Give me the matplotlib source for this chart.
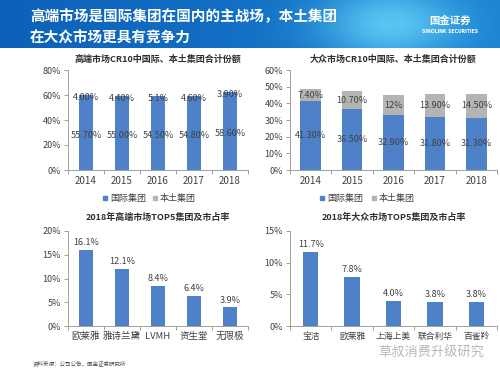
import numpy as np
import matplotlib
matplotlib.use("Agg")
from matplotlib import pyplot as plt

plt.rcParams['font.family'] = ['Noto Sans CJK SC', 'DejaVu Sans']

years = ['2014', '2015', '2016', '2017', '2018']
hi_intl = [55.7, 55.0, 54.5, 54.8, 58.6]
hi_local = [4.0, 4.4, 5.1, 4.6, 3.9]
hi_local_lbl = ['4.00%', '4.40%', '5.1%', '4.60%', '3.90%']
hi_intl_lbl = ['55.70%', '55.00%', '54.50%', '54.80%', '58.60%']

mass_intl = [41.3, 36.5, 32.9, 31.8, 31.3]
mass_local = [7.4, 10.7, 12.0, 13.9, 14.5]
mass_local_lbl = ['7.40%', '10.70%', '12%', '13.90%', '14.50%']
mass_intl_lbl = ['41.30%', '36.50%', '32.90%', '31.80%', '31.30%']

hi_top5 = ['欧莱雅', '雅诗兰黛', 'LVMH', '资生堂', '无限极']
hi_top5_share = [16.1, 12.1, 8.4, 6.4, 3.9]
mass_top5 = ['宝洁', '欧莱雅', '上海上美', '联合利华', '百雀羚']
mass_top5_share = [11.7, 7.8, 4.0, 3.8, 3.8]

BLUE = '#4f81c9'
GREY = '#b4b4b4'
TXT = '#404040'

fig = plt.figure(figsize=(5, 3.75), dpi=100)

# header band
hdr = fig.add_axes([0, 1 - 48 / 375, 1, 48 / 375])
xx = np.linspace(0, 1, 300)
yy = np.linspace(0, 1, 40)
X, Y = np.meshgrid(xx, yy)
glow = np.exp(-((X - 0.78) ** 2) / 0.02 - ((Y - 0.5) ** 2) / 0.6)
r = 0.05 + 0.05 * X + 0.25 * glow
g = 0.38 + 0.12 * X + 0.3 * glow
b = 0.72 + 0.1 * X + 0.15 * glow
img = np.clip(np.dstack([r, g, b]), 0, 1)
hdr.imshow(img, aspect='auto', extent=[0, 1, 0, 1], origin='lower')
hdr.set_xlim(0, 1)
hdr.set_ylim(0, 1)
hdr.axis('off')
hdr.text(0.06, 0.66, '高端市场是国际集团在国内的主战场，本土集团', color='white',
         fontsize=10.5, fontweight='bold', va='center', ha='left')
hdr.text(0.06, 0.22, '在大众市场更具有竞争力', color='white',
         fontsize=10.5, fontweight='bold', va='center', ha='left')
hdr.text(0.9, 0.56, '国金证券', color='white', fontsize=7.5, fontweight='bold',
         va='center', ha='center')
hdr.text(0.9, 0.34, 'SINOLINK SECURITIES', color='white', fontsize=3.3,
         fontweight='bold', va='center', ha='center', family='DejaVu Sans')


def style_axes(ax, n, xsize=7):
    for s in ['top', 'right']:
        ax.spines[s].set_visible(False)
    for s in ['left', 'bottom']:
        ax.spines[s].set_color('#a0a0a0')
        ax.spines[s].set_linewidth(0.7)
    ax.set_xlim(-0.5, n - 0.5)
    ax.set_xticks(range(n))
    ax.set_xticks(np.arange(-0.5, n, 1), minor=True)
    ax.tick_params(axis='x', which='major', length=0, labelsize=xsize, colors=TXT, pad=4)
    ax.tick_params(axis='x', which='minor', length=3, color='#a0a0a0', width=0.7)
    ax.tick_params(axis='y', length=3, color='#a0a0a0', width=0.7, labelsize=6.5,
                   colors=TXT, pad=2)


def pct_ticks(ax, top, step):
    t = np.arange(0, top + 0.1, step)
    ax.set_ylim(0, top)
    ax.set_yticks(t)
    ax.set_yticklabels(['%d%%' % v for v in t])


# top-left: high-end market CR10
ax1 = fig.add_axes([68 / 500, 1 - 170 / 375, 180 / 500, 100 / 375])
x = np.arange(len(years))
ax1.bar(x, hi_intl, 0.38, color=BLUE)
ax1.bar(x, hi_local, 0.38, bottom=hi_intl, color=BLUE)
for i in x:
    ax1.text(i, hi_intl[i] / 2, hi_intl_lbl[i], ha='center', va='center', fontsize=6.5, color=TXT)
    ax1.text(i, hi_intl[i] + hi_local[i] / 2, hi_local_lbl[i], ha='center', va='center',
             fontsize=6.5, color=TXT)
ax1.set_xticklabels(years)
pct_ticks(ax1, 80, 20)
style_axes(ax1, len(years))
ax1.set_title('高端市场CR10中国际、本土集团合计份额', fontsize=6.5, fontweight='bold',
              color='#303030', pad=6)

# top-right: mass market CR10
ax2 = fig.add_axes([290 / 500, 1 - 170 / 375, 207 / 500, 100 / 375])
ax2.bar(x, mass_intl, 0.5, color=BLUE)
ax2.bar(x, mass_local, 0.5, bottom=mass_intl, color=GREY)
for i in x:
    ax2.text(i, mass_intl[i] / 2, mass_intl_lbl[i], ha='center', va='center', fontsize=6.5, color=TXT)
    ax2.text(i, mass_intl[i] + mass_local[i] / 2, mass_local_lbl[i], ha='center', va='center',
             fontsize=6.5, color=TXT)
ax2.set_xticklabels(years)
pct_ticks(ax2, 60, 10)
style_axes(ax2, len(years))
ax2.set_title('大众市场CR10中国际、本土集团合计份额', fontsize=6.5, fontweight='bold',
              color='#303030', pad=6)

# legends below the top charts
for xl, col, lab in [(103, BLUE, '国际集团'), (153, GREY, '本土集团'),
                     (320, BLUE, '国际集团'), (372, GREY, '本土集团')]:
    fig.patches.append(plt.Rectangle((xl / 500, 1 - 200 / 375), 4 / 500, 4 / 375,
                                     transform=fig.transFigure, color=col))
    fig.text((xl + 7) / 500, 1 - 198 / 375, lab, fontsize=6.5, color=TXT, va='center')

# bottom-left: high-end top5
ax3 = fig.add_axes([68 / 500, 1 - 326 / 375, 180 / 500, 95 / 375])
x5 = np.arange(len(hi_top5))
ax3.bar(x5, hi_top5_share, 0.39, color=BLUE)
for i in x5:
    ax3.text(i, hi_top5_share[i] + 0.6, '%.1f%%' % hi_top5_share[i], ha='center', va='bottom',
             fontsize=6.5, color=TXT)
ax3.set_xticklabels(hi_top5)
pct_ticks(ax3, 20, 5)
style_axes(ax3, len(hi_top5), xsize=6.8)
ax3.set_title('2018年高端市场TOP5集团及市占率', fontsize=6.5, fontweight='bold',
              color='#303030', pad=8)

# bottom-right: mass top5
ax4 = fig.add_axes([290 / 500, 1 - 326 / 375, 207 / 500, 95 / 375])
ax4.bar(x5, mass_top5_share, 0.37, color=BLUE)
for i in x5:
    ax4.text(i, mass_top5_share[i] + 0.45, '%.1f%%' % mass_top5_share[i], ha='center',
             va='bottom', fontsize=6.5, color=TXT)
ax4.set_xticklabels(mass_top5)
pct_ticks(ax4, 15, 5)
style_axes(ax4, len(mass_top5), xsize=6.3)
ax4.set_title('2018年大众市场TOP5集团及市占率', fontsize=6.5, fontweight='bold',
              color='#303030', pad=8)

# footer
fig.text(33 / 500, 1 - 363 / 375, '资料来源：公司公告，国金证券研究所', fontsize=4,
         color='#505050', va='center')
fig.text(484 / 500, 1 - 353 / 375, '草叔消费升级研究', fontsize=9.5, color='#b8b8b8',
         va='center', ha='right')

fig.savefig('out.png', dpi=100)
